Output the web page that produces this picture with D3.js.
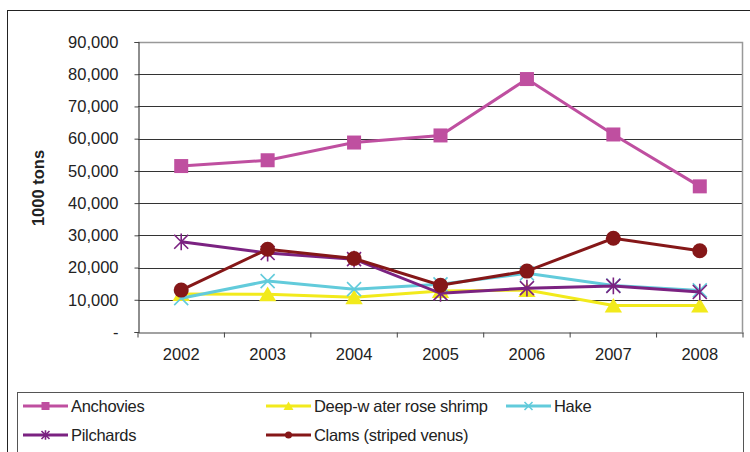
<!DOCTYPE html>
<html>
<head>
<meta charset="utf-8">
<script src="https://cdn.jsdelivr.net/npm/d3@7/dist/d3.min.js"></script>
<style>
  body { margin: 0; background: #fff; }
  svg { display: block; }
  svg text { font-family: Arial, 'Liberation Sans', sans-serif; }
</style>
</head>
<body>
<div id="chart"></div>
<script>
// data
const years = ['2002', '2003', '2004', '2005', '2006', '2007', '2008'];
const anchovies = [51500, 53300, 58800, 61000, 78500, 61300, 45200];
const shrimp = [11800, 11700, 10800, 12700, 13000, 8200, 8200];
const hake = [10500, 15800, 13300, 14800, 18200, 14400, 12900];
const pilchards = [28000, 24500, 22600, 12000, 13600, 14300, 12400];
const clams = [13000, 25700, 22800, 14500, 18900, 29100, 25200];
const yTicks = [0, 10000, 20000, 30000, 40000, 50000, 60000, 70000, 80000, 90000];

const series = [
  { name: 'Anchovies', values: anchovies, color: '#bf4fa0', marker: 'square' },
  { name: 'Deep-w ater rose shrimp', values: shrimp, color: '#f2ea1c', marker: 'triangle' },
  { name: 'Hake', values: hake, color: '#62cbdb', marker: 'x' },
  { name: 'Pilchards', values: pilchards, color: '#7b2281', marker: 'star' },
  { name: 'Clams (striped venus)', values: clams, color: '#851718', marker: 'circle' }
];

const W = 750, H = 452;
const plot = { left: 138, right: 743, top: 42, bottom: 332 };
const fontSize = '16.5px';

const svg = d3.select('#chart').append('svg')
  .attr('width', W).attr('height', H);

// outer frame
svg.append('rect')
  .attr('x', 7.5).attr('y', 10.5)
  .attr('width', 760).attr('height', 460)
  .attr('fill', 'none').attr('stroke', '#222').attr('stroke-width', 1);

const x = d3.scaleBand().domain(years).range([plot.left, plot.right]);
const y = d3.scaleLinear().domain([0, 90000]).range([plot.bottom, plot.top]);

// gridlines
svg.append('g')
  .selectAll('line')
  .data(yTicks.filter(d => d > 0 && d < 90000))
  .enter().append('line')
  .attr('x1', plot.left).attr('x2', plot.right)
  .attr('y1', d => Math.round(y(d)) + 0.5).attr('y2', d => Math.round(y(d)) + 0.5)
  .attr('stroke', '#333').attr('stroke-width', 1);

// plot border (top / right)
svg.append('path')
  .attr('d', `M${plot.left},${plot.top + 0.5}H${plot.right - 0.5}V${plot.bottom}`)
  .attr('fill', 'none').attr('stroke', '#999').attr('stroke-width', 1.5);

// y axis
const yAxis = svg.append('g')
  .attr('transform', `translate(${plot.left + 0.5},0)`)
  .call(d3.axisLeft(y).tickValues(yTicks).tickSize(4).tickPadding(16)
    .tickFormat(d => d === 0 ? '-' : d3.format(',')(d)));
yAxis.select('.domain').attr('stroke', '#444').attr('stroke-width', 1.2);
yAxis.selectAll('.tick line').attr('stroke', '#444');
yAxis.selectAll('.tick text')
  .style('font-size', fontSize).style('fill', '#222');

// x axis
const xAxis = svg.append('g')
  .attr('transform', `translate(0,${plot.bottom + 0.5})`)
  .call(d3.axisBottom(x).tickSize(0).tickPadding(16));
xAxis.select('.domain').attr('stroke', '#444').attr('stroke-width', 1.2);
xAxis.selectAll('.tick text')
  .style('font-size', fontSize).style('fill', '#222');
// tick marks between categories
xAxis.selectAll('.sep')
  .data(years.concat(['end']))
  .enter().append('line')
  .attr('class', 'sep')
  .attr('x1', (d, i) => plot.left + i * x.bandwidth())
  .attr('x2', (d, i) => plot.left + i * x.bandwidth())
  .attr('y1', 0).attr('y2', 5)
  .attr('stroke', '#444');

// y title
svg.append('text')
  .attr('transform', `translate(44,188) rotate(-90)`)
  .attr('text-anchor', 'middle')
  .style('font-size', fontSize).style('font-weight', 'bold').style('fill', '#222')
  .text('1000 tons');

function drawMarker(g, type, color, size) {
  const s = size;
  if (type === 'square') {
    g.append('rect').attr('x', -s / 2).attr('y', -s / 2).attr('width', s).attr('height', s).attr('fill', color);
  } else if (type === 'triangle') {
    g.append('path').attr('d', `M0,${-s * 0.55}L${s * 0.62},${s * 0.5}L${-s * 0.62},${s * 0.5}Z`).attr('fill', color);
  } else if (type === 'circle') {
    g.append('circle').attr('r', s / 2).attr('fill', color);
  } else if (type === 'x') {
    const h = s / 2;
    g.append('path').attr('d', `M${-h},${-h}L${h},${h}M${-h},${h}L${h},${-h}`)
      .attr('stroke', color).attr('stroke-width', 1.6);
  } else if (type === 'star') {
    const h = s / 2;
    g.append('path').attr('d', `M${-h},${-h}L${h},${h}M${-h},${h}L${h},${-h}M0,${-h * 1.2}V${h * 1.2}`)
      .attr('stroke', color).attr('stroke-width', 1.6);
  }
}

const line = d3.line()
  .x((d, i) => x(years[i]) + x.bandwidth() / 2)
  .y(d => y(d));

series.forEach(s => {
  svg.append('path')
    .datum(s.values)
    .attr('d', line)
    .attr('fill', 'none')
    .attr('stroke', s.color)
    .attr('stroke-width', 3);
  s.values.forEach((v, i) => {
    const g = svg.append('g')
      .attr('transform', `translate(${x(years[i]) + x.bandwidth() / 2},${y(v)})`);
    drawMarker(g, s.marker, s.color, s.marker === 'circle' ? 15 : 14);
  });
});

// legend
svg.append('rect')
  .attr('x', 17.5).attr('y', 392.5)
  .attr('width', 726).attr('height', 80)
  .attr('fill', 'none').attr('stroke', '#555').attr('stroke-width', 1);

const legendPos = [
  { name: 'Anchovies', x: 23, y: 406 },
  { name: 'Deep-w ater rose shrimp', x: 266, y: 406 },
  { name: 'Hake', x: 506, y: 406 },
  { name: 'Pilchards', x: 23, y: 435 },
  { name: 'Clams (striped venus)', x: 266, y: 435 }
];

legendPos.forEach(p => {
  const s = series.find(d => d.name === p.name);
  const g = svg.append('g').attr('transform', `translate(${p.x},${p.y})`);
  g.append('line').attr('x1', 0).attr('x2', 45).attr('y1', 0).attr('y2', 0)
    .attr('stroke', s.color).attr('stroke-width', 3);
  const m = g.append('g').attr('transform', 'translate(22.5,0)');
  drawMarker(m, s.marker, s.color, s.marker === 'circle' ? 7 : 8);
  g.append('text')
    .attr('x', 48).attr('y', 0).attr('dy', '0.35em')
    .style('font-size', fontSize).style('fill', '#222')
    .style('letter-spacing', '-0.3px')
    .text(s.name);
});
</script>
</body>
</html>
